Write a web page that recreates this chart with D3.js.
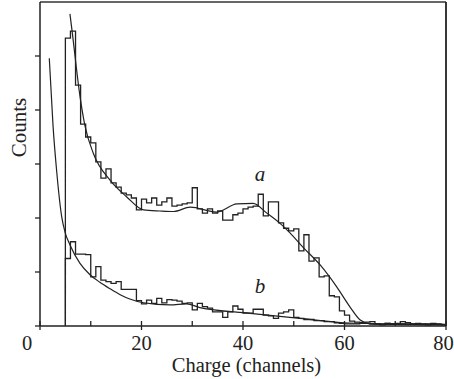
<!DOCTYPE html>
<html><head><meta charset="utf-8">
<script src="https://cdn.jsdelivr.net/npm/d3@7"></script>
<style>
html,body{margin:0;padding:0;background:#fff;}
svg{display:block;}
</style></head>
<body><svg id="c" width="454" height="379"></svg>
<script>
// channel where histograms start
const startChannel = 5;
// histogram a counts, channels 5..79
const histA = [533,546,446,374,350,339,304,274,291,265,257,246,243,237,215,235,228,237,224,230,
  237,222,224,226,228,256,217,209,217,209,213,196,196,206,209,217,220,222,244,204,
  230,230,191,181,176,180,139,169,120,126,91,93,56,54,28,20,9,7,6,7,
  8,4,3,5,4,3,4,3,4,3,3,4,3,3,2];
// histogram b counts, channels 5..79
const histB = [125,156,133,133,132,91,110,85,82,79,82,68,68,68,47,41,48,42,51,43,
  49,48,46,42,43,30,42,36,33,26,26,16,26,37,31,24,24,31,31,20,
  19,14,24,26,30,16,14,12,12,10,10,8,8,6,5,4,4,4,6,5,
  4,4,2,5,4,5,8,6,4,5,4,2,5,4,3];
// fitted curve a
const fitAch = [5.9,6.3,7.9,8.9,10.5,13.8,17.1,20.4,23.6,26.3,29.6,34.8,38.8,42.0,44.7,47.3,49.3,51.8,55.2,58.5,61.1,63.1,65.0,70,80];
const fitAc  = [578,548,424,369,320,270,239,215,213,212,220,211,226,227,209,190,172,146,113,72,35,11,4,3,2];
// fitted curve b
const fitBch = [1.83,2.56,3.35,4.28,4.93,5.91,7.88,9.85,11.8,13.8,15.8,17.7,20.4,25.6,28.9,31.5,41.4,51.2,59.8,67.6,79.5];
const fitBc  = [496,372,280,202,174,150,116,95,81,69,58,50,43,39,41,34,23.5,14,6,4,3];
const xTicks = [0,20,40,60,80];
const xMinor = [10,30,50,70];
const yTicks = [0,100,200,300,400,500];

const FONT = "'Liberation Serif','DejaVu Serif',serif";
const svg = d3.select("#c");
const x = d3.scaleLinear().domain([0,80]).range([40,446]);
const y = d3.scaleLinear().domain([0,600]).range([326,2]);

function stepPath(vals){
  const p = d3.path();
  p.moveTo(x(startChannel), y(0));
  vals.forEach((v,i)=>{
    p.lineTo(x(startChannel+i), y(v));
    p.lineTo(x(startChannel+i+1), y(v));
  });
  return p.toString();
}
const ink = "#222";
// frame
svg.append("line").attr("x1",40).attr("x2",446).attr("y1",y(600)).attr("y2",y(600)).attr("stroke","#666").attr("stroke-width",2.2);
svg.append("line").attr("x1",x(80)).attr("x2",x(80)).attr("y1",y(600)).attr("y2",y(0)).attr("stroke",ink).attr("stroke-width",1.8);

svg.append("path").attr("d",stepPath(histA)).attr("fill","none").attr("stroke",ink).attr("stroke-width",1.3);
svg.append("path").attr("d",stepPath(histB)).attr("fill","none").attr("stroke",ink).attr("stroke-width",1.3);

const line = d3.line().curve(d3.curveMonotoneX);
svg.append("path").attr("d",line(fitAch.map((c,i)=>[x(c),y(fitAc[i])]))).attr("fill","none").attr("stroke",ink).attr("stroke-width",1.2);
svg.append("path").attr("d",line(fitBch.map((c,i)=>[x(c),y(fitBc[i])]))).attr("fill","none").attr("stroke",ink).attr("stroke-width",1.2);

// x axis
const gx = svg.append("g").attr("transform",`translate(0,${y(0)})`);
gx.append("line").attr("x1",x(0)).attr("x2",x(80)).attr("stroke",ink).attr("stroke-width",1.5);
xTicks.forEach(t=>{
  gx.append("line").attr("x1",x(t)).attr("x2",x(t)).attr("y1",-5).attr("y2",4).attr("stroke",ink).attr("stroke-width",1.3);
});
xMinor.forEach(t=>{
  gx.append("line").attr("x1",x(t)).attr("x2",x(t)).attr("y1",-5).attr("y2",0).attr("stroke",ink).attr("stroke-width",1.3);
});
xTicks.forEach(t=>{
  const lx = t===0 ? x(t)-13 : (t===80 ? x(t)-2.5 : x(t));
  gx.append("text").attr("x", lx).attr("y",23.5).attr("text-anchor","middle")
    .attr("font-family",FONT).attr("font-size",20.5).attr("fill",ink).text(t);
});
// y axis
const gy = svg.append("g").attr("transform",`translate(40,0)`);
gy.append("line").attr("y1",y(600)).attr("y2",y(0)).attr("stroke",ink).attr("stroke-width",1.5);
yTicks.forEach(t=>{
  gy.append("line").attr("x1",-5).attr("x2",0).attr("y1",y(t)).attr("y2",y(t)).attr("stroke",ink).attr("stroke-width",1.3);
});

svg.append("text").attr("x",246.5).attr("y",372).attr("text-anchor","middle").attr("font-family",FONT).attr("font-size",20.5).attr("fill",ink).text("Charge (channels)");
svg.append("text").attr("transform","translate(26,127.5) rotate(-90)").attr("text-anchor","middle").attr("font-family",FONT).attr("font-size",21).attr("fill",ink).text("Counts");
svg.append("text").attr("x",260).attr("y",181).attr("text-anchor","middle").attr("font-family",FONT).attr("font-size",21).attr("font-style","italic").attr("fill",ink).text("a");
svg.append("text").attr("x",260).attr("y",293).attr("text-anchor","middle").attr("font-family",FONT).attr("font-size",21).attr("font-style","italic").attr("fill",ink).text("b");
</script></body></html>
